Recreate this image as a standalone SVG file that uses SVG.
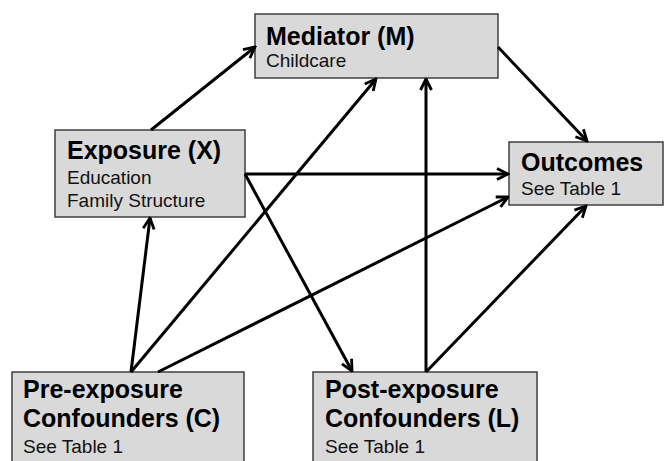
<svg xmlns="http://www.w3.org/2000/svg" width="664" height="461" viewBox="0 0 664 461">
<defs>
<marker id="ah" viewBox="0 0 14 14" refX="12.5" refY="7" markerWidth="14" markerHeight="14" markerUnits="userSpaceOnUse" orient="auto">
<path d="M1.5,1.5 L12.5,7 L1.5,12.5" fill="none" stroke="#000" stroke-width="2.8" stroke-linejoin="miter"/>
</marker>
<style>
.box{fill:#d9d9d9;stroke:#3f3f3f;stroke-width:1.5}
.t{font-family:"Liberation Sans",Arial,sans-serif;font-size:25px;font-weight:bold;fill:#000}
.s{font-family:"Liberation Sans",Arial,sans-serif;font-size:19px;fill:#111}
.c line{stroke:#000;stroke-width:3;marker-end:url(#ah)}
</style>
</defs>
<rect width="664" height="461" fill="#fff"/>
<g id="mediator">
<rect class="box" x="255" y="14" width="243" height="64"/>
<text class="t" x="266" y="45">Mediator (M)</text>
<text class="s" x="266" y="67">Childcare</text>
</g>
<g id="exposure">
<rect class="box" x="55" y="130" width="190" height="87"/>
<text class="t" x="67" y="159">Exposure (X)</text>
<text class="s" x="67" y="184">Education</text>
<text class="s" x="67" y="207">Family Structure</text>
</g>
<g id="outcomes">
<rect class="box" x="509" y="142" width="154" height="63"/>
<text class="t" x="521" y="171">Outcomes</text>
<text class="s" x="521" y="195">See Table 1</text>
</g>
<g id="pre">
<rect class="box" x="12" y="372" width="232" height="95"/>
<text class="t" x="23" y="398">Pre-exposure</text>
<text class="t" x="23" y="427">Confounders (C)</text>
<text class="s" x="23" y="453">See Table 1</text>
</g>
<g id="post">
<rect class="box" x="313" y="372" width="224" height="95"/>
<text class="t" x="325" y="398">Post-exposure</text>
<text class="t" x="325" y="427">Confounders (L)</text>
<text class="s" x="325" y="453">See Table 1</text>
</g>
<g id="connectors" class="c">
<line x1="151" y1="130" x2="255" y2="47"/>
<line x1="498" y1="47" x2="587" y2="141"/>
<line x1="245" y1="174" x2="508" y2="174"/>
<line x1="245" y1="174" x2="352" y2="371"/>
<line x1="131" y1="372" x2="150" y2="218"/>
<line x1="131" y1="372" x2="376" y2="79"/>
<line x1="158" y1="372" x2="508" y2="197"/>
<line x1="426" y1="372" x2="426" y2="79"/>
<line x1="426" y1="372" x2="586" y2="206"/>
</g>
</svg>
